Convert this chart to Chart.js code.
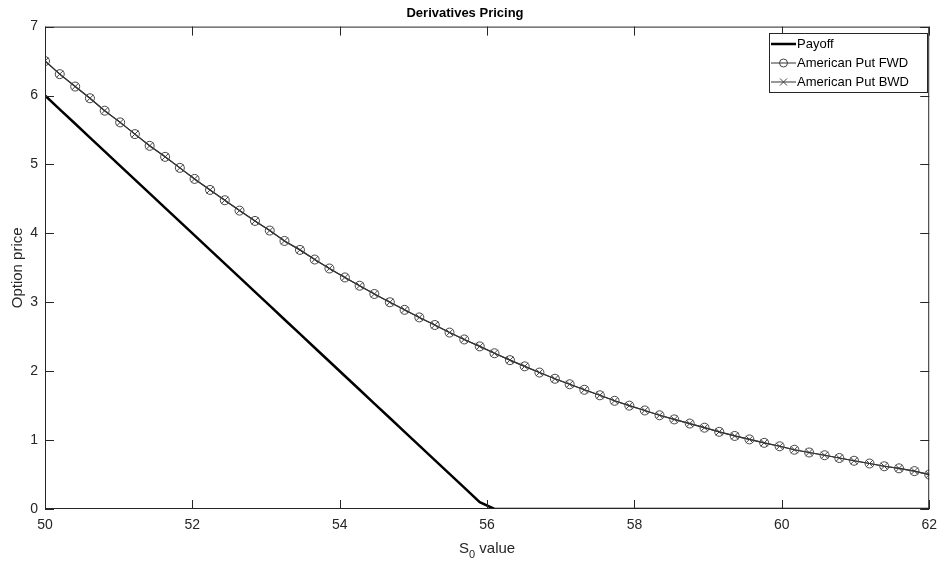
<!DOCTYPE html>
<html>
<head>
<meta charset="utf-8">
<script src="https://cdn.jsdelivr.net/npm/chart.js@4/dist/chart.umd.min.js"></script>
<style>
  html, body { margin:0; padding:0; background:#fff; }
  #wrap { width:945px; height:564px; position:relative; }
</style>
</head>
<body>
<div id="wrap"><canvas id="price-chart"></canvas></div>
<script>
// S0 grid (60 points between 50 and 62)
const s0Values = [
  50.00, 50.20, 50.41, 50.61, 50.81, 51.02, 51.22, 51.42, 51.63, 51.83,
  52.03, 52.24, 52.44, 52.64, 52.85, 53.05, 53.25, 53.46, 53.66, 53.86,
  54.07, 54.27, 54.47, 54.68, 54.88, 55.08, 55.29, 55.49, 55.69, 55.90,
  56.10, 56.31, 56.51, 56.71, 56.92, 57.12, 57.32, 57.53, 57.73, 57.93,
  58.14, 58.34, 58.54, 58.75, 58.95, 59.15, 59.36, 59.56, 59.76, 59.97,
  60.17, 60.37, 60.58, 60.78, 60.98, 61.19, 61.39, 61.59, 61.80, 62.00
];
const payoff = [
  6.00, 5.80, 5.59, 5.39, 5.19, 4.98, 4.78, 4.58, 4.37, 4.17,
  3.97, 3.76, 3.56, 3.36, 3.15, 2.95, 2.75, 2.54, 2.34, 2.14,
  1.93, 1.73, 1.53, 1.32, 1.12, 0.92, 0.71, 0.51, 0.31, 0.10,
  0, 0, 0, 0, 0, 0, 0, 0, 0, 0,
  0, 0, 0, 0, 0, 0, 0, 0, 0, 0,
  0, 0, 0, 0, 0, 0, 0, 0, 0, 0
];
const putFwd = [
  6.50, 6.31, 6.13, 5.96, 5.78, 5.61, 5.44, 5.27, 5.11, 4.95,
  4.79, 4.63, 4.48, 4.33, 4.18, 4.04, 3.89, 3.76, 3.62, 3.49,
  3.36, 3.24, 3.12, 3.00, 2.89, 2.78, 2.67, 2.56, 2.46, 2.36,
  2.26, 2.16, 2.07, 1.98, 1.89, 1.81, 1.73, 1.65, 1.57, 1.50,
  1.43, 1.36, 1.30, 1.24, 1.18, 1.12, 1.06, 1.01, 0.96, 0.91,
  0.86, 0.82, 0.78, 0.74, 0.70, 0.66, 0.62, 0.59, 0.55, 0.50
];
const putBwd = [
  6.50, 6.31, 6.13, 5.96, 5.78, 5.61, 5.44, 5.27, 5.11, 4.95,
  4.79, 4.63, 4.48, 4.33, 4.18, 4.04, 3.89, 3.76, 3.62, 3.49,
  3.36, 3.24, 3.12, 3.00, 2.89, 2.78, 2.67, 2.56, 2.46, 2.36,
  2.26, 2.16, 2.07, 1.98, 1.89, 1.81, 1.73, 1.65, 1.57, 1.50,
  1.43, 1.36, 1.30, 1.24, 1.18, 1.12, 1.06, 1.01, 0.96, 0.91,
  0.86, 0.82, 0.78, 0.74, 0.70, 0.66, 0.62, 0.59, 0.55, 0.50
];
const xTicks = [50, 52, 54, 56, 58, 60, 62];
const yTicks = [0, 1, 2, 3, 4, 5, 6, 7];

const AXIS = '#262626';
const FONT = "'Liberation Sans', Arial, sans-serif";

function pts(ys) { return s0Values.map((x, i) => ({ x, y: ys[i] })); }

// matlab style box, inward ticks, x label with subscript and legend inside the axes
const boxPlugin = {
  id: 'matlabBox',
  afterDraw(c) {
    const { ctx, chartArea: a, scales } = c;
    ctx.save();
    ctx.strokeStyle = AXIS;
    ctx.lineWidth = 1;
    ctx.strokeRect(a.left + 0.5, a.top + 0.5, a.right - a.left - 1, a.bottom - a.top - 1);
    ctx.beginPath();
    xTicks.forEach(v => {
      const px = Math.round(scales.x.getPixelForValue(v)) + 0.5;
      ctx.moveTo(px, a.bottom); ctx.lineTo(px, a.bottom - 9);
      ctx.moveTo(px, a.top);    ctx.lineTo(px, a.top + 9);
    });
    yTicks.forEach(v => {
      const py = Math.round(scales.y.getPixelForValue(v)) + 0.5;
      ctx.moveTo(a.left, py);  ctx.lineTo(a.left + 9, py);
      ctx.moveTo(a.right, py); ctx.lineTo(a.right - 9, py);
    });
    ctx.stroke();

    // x label: S with subscript 0
    ctx.fillStyle = AXIS;
    ctx.textBaseline = 'alphabetic';
    ctx.font = '15px ' + FONT;
    const wS = ctx.measureText('S').width;
    const wV = ctx.measureText(' value').width;
    ctx.font = '11px ' + FONT;
    const w0 = ctx.measureText('0').width;
    let x0 = (a.left + a.right) / 2 - (wS + w0 + wV) / 2;
    const base = 553;
    ctx.font = '15px ' + FONT;
    ctx.fillText('S', x0, base);
    ctx.font = '11px ' + FONT;
    ctx.fillText('0', x0 + wS, base + 5);
    ctx.font = '15px ' + FONT;
    ctx.fillText(' value', x0 + wS + w0, base);

    // legend
    const lx = 769, ly = 33, lw = 158, lh = 59;
    ctx.fillStyle = '#fff';
    ctx.fillRect(lx, ly, lw, lh);
    ctx.strokeStyle = AXIS;
    ctx.strokeRect(lx + 0.5, ly + 0.5, lw, lh);
    const rows = [
      { text: 'Payoff', color: '#000', width: 2.5, marker: null },
      { text: 'American Put FWD', color: '#333', width: 1, marker: 'circle' },
      { text: 'American Put BWD', color: '#333', width: 1, marker: 'cross' }
    ];
    ctx.font = '13px ' + FONT;
    ctx.textBaseline = 'middle';
    rows.forEach((r, i) => {
      const y = ly + 11 + i * 19;
      ctx.strokeStyle = r.color;
      ctx.lineWidth = r.width;
      ctx.beginPath(); ctx.moveTo(lx + 2, y); ctx.lineTo(lx + 27, y); ctx.stroke();
      ctx.lineWidth = 1;
      ctx.strokeStyle = '#444';
      if (r.marker === 'circle') {
        ctx.beginPath(); ctx.arc(lx + 14.5, y, 4, 0, Math.PI * 2); ctx.stroke();
      } else if (r.marker === 'cross') {
        ctx.beginPath();
        ctx.moveTo(lx + 11, y - 3.5); ctx.lineTo(lx + 18, y + 3.5);
        ctx.moveTo(lx + 11, y + 3.5); ctx.lineTo(lx + 18, y - 3.5);
        ctx.stroke();
      }
      ctx.fillStyle = '#000';
      ctx.fillText(r.text, lx + 28, y + 0.5);
    });
    ctx.restore();
  }
};

new Chart(document.getElementById('price-chart'), {
  type: 'line',
  data: {
    datasets: [
      { label: 'Payoff', data: pts(payoff), borderColor: '#000', borderWidth: 2.5,
        pointRadius: 0, tension: 0, fill: false },
      { label: 'American Put FWD', data: pts(putFwd), borderColor: '#333', borderWidth: 1.2,
        pointStyle: 'circle', pointRadius: 4.5, pointBorderColor: '#444', pointBackgroundColor: 'rgba(0,0,0,0)',
        pointBorderWidth: 1, tension: 0, fill: false },
      { label: 'American Put BWD', data: pts(putBwd), borderColor: '#333', borderWidth: 1.2,
        pointStyle: 'crossRot', pointRadius: 5, pointBorderColor: '#444',
        pointBorderWidth: 1, tension: 0, fill: false }
    ]
  },
  options: {
    responsive: true, maintainAspectRatio: false, animation: false,
    layout: { padding: { left: 0, right: 15, top: 0, bottom: 0 } },
    plugins: {
      legend: { display: false },
      tooltip: { enabled: false },
      title: { display: true, text: 'Derivatives Pricing', color: '#000',
        font: { family: FONT, size: 13, weight: 'bold' }, padding: { top: 6, bottom: 5 } }
    },
    scales: {
      x: {
        type: 'linear', min: 50, max: 62,
        grid: { display: false, drawTicks: false }, border: { display: false },
        afterBuildTicks: s => { s.ticks = xTicks.map(v => ({ value: v })); },
        afterFit: s => { s.height = 55; },
        ticks: { color: AXIS, padding: 8, font: { family: FONT, size: 14 }, maxRotation: 0 },
        title: { display: false }
      },
      y: {
        min: 0, max: 7,
        grid: { display: false, drawTicks: false }, border: { display: false },
        afterBuildTicks: s => { s.ticks = yTicks.map(v => ({ value: v })); },
        afterFit: s => { s.width = 45; },
        ticks: { color: AXIS, padding: 7, font: { family: FONT, size: 14 } },
        title: { display: true, text: 'Option price', color: AXIS, font: { family: FONT, size: 15 },
          padding: { top: 9, bottom: 0 } }
      }
    }
  },
  plugins: [boxPlugin]
});
</script>
</body>
</html>
